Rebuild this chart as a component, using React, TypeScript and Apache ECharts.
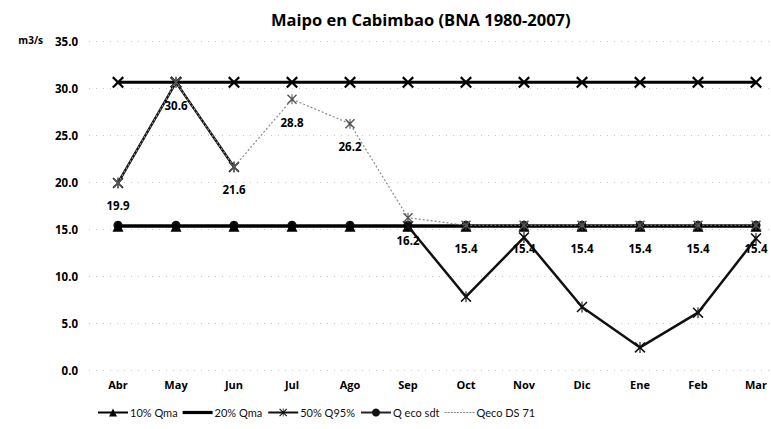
import React, { useEffect, useRef } from "react";
import * as echarts from "echarts";

const months = ["Abr", "May", "Jun", "Jul", "Ago", "Sep", "Oct", "Nov", "Dic", "Ene", "Feb", "Mar"];
const qma10 = [15.3, 15.3, 15.3, 15.3, 15.3, 15.3, 15.3, 15.3, 15.3, 15.3, 15.3, 15.3];
const qma20 = [30.6, 30.6, 30.6, 30.6, 30.6, 30.6, 30.6, 30.6, 30.6, 30.6, 30.6, 30.6];
const q95half = [19.9, 30.6, 21.6, null, null, 15.3, 7.8, 14.1, 6.7, 2.4, 6.1, 14.0];
const qecoSdt = [15.4, 15.4, 15.4, 15.4, 15.4, 15.4, 15.4, 15.4, 15.4, 15.4, 15.4, 15.4];
const qecoDs71 = [19.9, 30.6, 21.6, 28.8, 26.2, 16.2, 15.4, 15.4, 15.4, 15.4, 15.4, 15.4];
const seriesNames = ["10% Qma", "20% Qma", "50% Q95%", "Q eco sdt", "Qeco DS 71"];

const X_SYMBOL = "path://M0,1.3L1.3,0L5,3.7L8.7,0L10,1.3L6.3,5L10,8.7L8.7,10L5,6.3L1.3,10L0,8.7L3.7,5Z";
const STAR_SYMBOL = "path://M0,1L1,0L5,4L9,0L10,1L6,5L10,9L9,10L5,6L1,10L0,9L4,5Z M4.5,0H5.5V10H4.5Z";
const THICK_LINE_ICON = "path://M0,0H30V3.2H0Z";
const DOTTED_ICON = "path://M0,0H2V1H0Z M3,0H5V1H3Z M6,0H8V1H6Z M9,0H11V1H9Z M12,0H14V1H12Z M15,0H17V1H15Z M18,0H20V1H18Z M21,0H23V1H21Z M24,0H26V1H24Z M27,0H29V1H27Z";

const FONT = "'Open Sans', Lato, sans-serif";
const NARROW = "Lato, 'Open Sans', sans-serif";

export default function App() {
  const ref = useRef<HTMLDivElement>(null);
  useEffect(() => {
    if (!ref.current) return;
    const chart = echarts.init(ref.current, null, { renderer: "svg" });
    chart.setOption({
      animation: false,
      backgroundColor: "#ffffff",
      textStyle: { fontFamily: FONT },
      title: {
        text: "Maipo en Cabimbao (BNA 1980-2007)",
        left: 266,
        top: 6,
        textStyle: { fontFamily: FONT, fontSize: 16.5, fontWeight: "bold", color: "#000" },
      },
      grid: { left: 89, top: 41, width: 696, bottom: 59, containLabel: false, outerBoundsMode: "none" },
      legend: {
        left: 92,
        top: 402,
        itemWidth: 30,
        itemHeight: 10,
        itemGap: 5,
        textStyle: { fontFamily: NARROW, fontSize: 11, color: "#111", padding: [0, 0, 0, -3] },
        data: [
          { name: seriesNames[0] },
          { name: seriesNames[1], icon: THICK_LINE_ICON, itemStyle: { color: "#000" } },
          { name: seriesNames[2] },
          { name: seriesNames[3] },
          { name: seriesNames[4], icon: DOTTED_ICON, itemStyle: { color: "#888" } },
        ],
      },
      xAxis: {
        type: "category",
        data: months,
        boundaryGap: true,
        axisLine: { show: false },
        axisTick: { show: false },
        axisLabel: { fontFamily: FONT, fontSize: 11, fontWeight: "bold", color: "#000", margin: 9 },
      },
      yAxis: {
        type: "value",
        min: 0,
        max: 35,
        interval: 5,
        name: "m3/s",
        nameLocation: "end",
        nameGap: -4,
        nameTextStyle: { fontFamily: FONT, fontSize: 10, fontWeight: "bold", color: "#000", align: "right", padding: [0, 46, 0, 0] },
        axisLine: { show: false },
        axisTick: { show: false },
        axisLabel: {
          fontFamily: FONT, fontSize: 11.5, fontWeight: "bold", color: "#000", margin: 11,
          formatter: (v: number) => v.toFixed(1),
        },
        splitLine: { show: true, lineStyle: { color: "#c8c8c8", type: [1, 6], width: 1 } },
      },
      series: [
        {
          name: seriesNames[3], type: "line", data: qecoSdt, z: 3,
          symbol: "circle", symbolSize: 9,
          lineStyle: { color: "#222", width: 2 }, itemStyle: { color: "#111" },
        },
        {
          name: seriesNames[0], type: "line", data: qma10, z: 4,
          symbol: "triangle", symbolSize: 11,
          lineStyle: { color: "#000", width: 3 }, itemStyle: { color: "#000" },
        },
        {
          name: seriesNames[1], type: "line", data: qma20, z: 4,
          symbol: X_SYMBOL, symbolSize: 12,
          lineStyle: { color: "#000", width: 3 }, itemStyle: { color: "#000" },
        },
        {
          name: seriesNames[2], type: "line", data: q95half, z: 5,
          symbol: STAR_SYMBOL, symbolSize: 11, connectNulls: false,
          lineStyle: { color: "#111", width: 2.5 }, itemStyle: { color: "#111" },
        },
        {
          name: seriesNames[4], type: "line", data: qecoDs71, z: 6,
          symbol: STAR_SYMBOL, symbolSize: 10,
          lineStyle: { color: "#8a8a8a", width: 1.2, type: [2, 2] },
          itemStyle: { color: "#555" },
          label: {
            show: true, position: "bottom", distance: 12,
            fontFamily: FONT, fontSize: 11.5, fontWeight: "bold", color: "#000",
            formatter: (p: any) => Number(p.value).toFixed(1),
          },
        },
      ],
    });
    return () => chart.dispose();
  }, []);
  return <div ref={ref} style={{ width: 771, height: 429, position: "absolute", left: 0, top: 0 }} />;
}
